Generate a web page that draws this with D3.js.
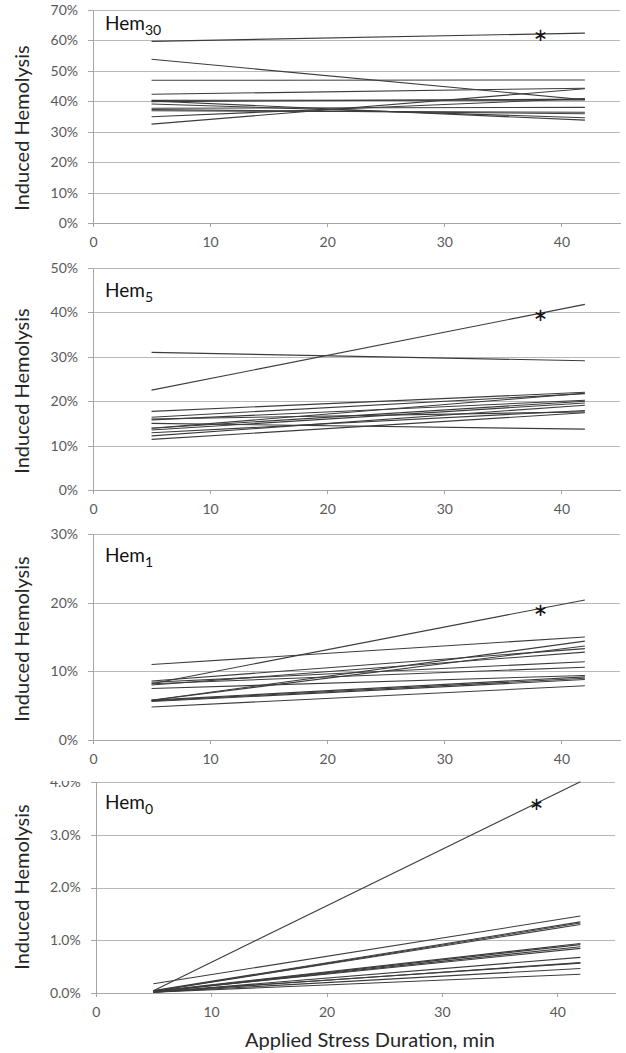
<!DOCTYPE html>
<meta charset="utf-8">
<style>

body {
  margin: 0;
  background: #fff;
}

svg text {
  font-family: Lato, "Open Sans", sans-serif;
}

.grid line {
  stroke: #b8b8b8;
  stroke-width: 1px;
}

.axis path, .axis line {
  stroke: #a6a6a6;
  shape-rendering: crispEdges;
}

.axis text {
  fill: #595959;
  font-size: 14px;
}

.series {
  fill: none;
  stroke: #3c3c3c;
  stroke-width: 1.1px;
}

</style>
<svg></svg>
<script src="https://d3js.org/d3.v7.min.js"></script>
<script>

var width = 626,
    height = 1053;

// measurement times (min), each subject is a straight line between them
var times = [5, 42];

// induced hemolysis, % : [at 5 min, at 42 min]
var hem30 = [[59.7, 62.4], [53.8, 40.5], [46.9, 47.0], [42.3, 44.3], [40.3, 40.4],
             [40.1, 33.8], [39.9, 40.7], [39.1, 34.6], [37.7, 38.0], [36.9, 36.4],
             [37.3, 35.9], [34.9, 40.9], [32.5, 44.1]];
var hem5 = [[22.5, 41.8], [31.0, 29.1], [17.7, 22.0], [16.4, 21.7], [16.0, 17.6],
            [15.8, 20.2], [15.0, 13.7], [13.9, 21.8], [13.5, 19.6], [12.9, 17.9],
            [12.2, 19.1], [11.4, 17.4], [13.9, 20.0]];
var hem1 = [[8.2, 20.4], [11.0, 15.0], [5.8, 14.4], [5.8, 13.7], [8.6, 13.3],
            [8.0, 12.8], [8.4, 11.4], [8.2, 10.6], [7.5, 9.4], [5.8, 9.2],
            [5.7, 9.0], [5.6, 8.8], [4.8, 7.9]];
var hem0 = [[0.05, 4.0], [0.18, 1.46], [0.05, 1.35], [0.04, 1.33], [0.04, 1.30],
            [0.04, 0.94], [0.03, 0.92], [0.03, 0.88], [0.03, 0.85], [0.02, 0.68],
            [0.02, 0.58], [0.03, 0.57], [0.02, 0.47], [0.02, 0.36]];

var panelNames = ["30", "5", "1", "0"];
var yMaxes = [70, 50, 30, 4];
var yTickSets = [[0, 10, 20, 30, 40, 50, 60, 70], [0, 10, 20, 30, 40, 50], [0, 10, 20, 30], [0, 1, 2, 3, 4]];
var xTicks = [0, 10, 20, 30, 40];
var xMax = 45;

// asterisk marking the significant subject
var starX = 38.2;
var starValues = [62.4, 39.8, 19.2, 3.6];

// layout of each plot area in the page
var panels = [
  {data: hem30, left: 93, right: 620, top: 10, bottom: 223, titleY: 128, hemY: 30, fmt: function(d) { return d + "%"; }},
  {data: hem5, left: 93, right: 620, top: 268, bottom: 490, titleY: 391, hemY: 297, fmt: function(d) { return d + "%"; }},
  {data: hem1, left: 93, right: 620, top: 534, bottom: 740, titleY: 639, hemY: 562, fmt: function(d) { return d + "%"; }},
  {data: hem0, left: 95.7, right: 615, top: 781.7, bottom: 993.3, titleY: 887, hemY: 809, fmt: function(d) { return d.toFixed(1) + "%"; }}
];

var svg = d3.select("svg")
    .attr("width", width)
    .attr("height", height);

// the bottom panel is cut off at its top edge in the original figure
svg.append("clipPath")
    .attr("id", "cut")
  .append("rect")
    .attr("x", 0)
    .attr("y", 781)
    .attr("width", width)
    .attr("height", height - 781);

panels.forEach(function(p, i) {
  var g = svg.append("g");
  if (i == 3) g.attr("clip-path", "url(#cut)");

  var x = d3.scaleLinear().domain([0, xMax]).range([p.left, p.right]);
  var y = d3.scaleLinear().domain([0, yMaxes[i]]).range([p.bottom, p.top]);

  // horizontal gridlines
  g.append("g")
      .attr("class", "grid")
    .selectAll("line")
    .data(yTickSets[i].slice(1))
    .enter().append("line")
      .attr("x1", p.left)
      .attr("x2", p.right)
      .attr("y1", function(d) { return Math.round(y(d)) + 0.5; })
      .attr("y2", function(d) { return Math.round(y(d)) + 0.5; });

  g.append("g")
      .attr("class", "axis")
      .attr("transform", "translate(" + p.left + ",0)")
      .call(d3.axisLeft(y).tickValues(yTickSets[i]).tickFormat(p.fmt).tickSize(5).tickSizeOuter(0).tickPadding(10));

  g.append("g")
      .attr("class", "axis")
      .attr("transform", "translate(0," + p.bottom + ")")
      .call(d3.axisBottom(x).tickValues(xTicks).tickSize(4).tickSizeOuter(0).tickPadding(10));

  var line = d3.line()
      .x(function(d, j) { return x(times[j]); })
      .y(function(d) { return y(d); });

  g.append("g")
    .selectAll("path")
    .data(p.data)
    .enter().append("path")
      .attr("class", "series")
      .attr("d", line);

  g.append("text")
      .attr("x", x(starX))
      .attr("y", y(starValues[i]))
      .attr("dy", "0.66em")
      .attr("text-anchor", "middle")
      .style("font-size", "34px")
      .style("fill", "#111")
      .text("*");

  var hem = g.append("text")
      .attr("x", 105)
      .attr("y", p.hemY)
      .style("font-size", "19px")
      .style("fill", "#111");
  hem.append("tspan").text("Hem");
  hem.append("tspan")
      .attr("dy", 5)
      .style("font-size", "14px")
      .text(panelNames[i]);

  g.append("text")
      .attr("transform", "translate(29," + p.titleY + ") rotate(-90)")
      .attr("text-anchor", "middle")
      .style("font-size", "20px")
      .style("fill", "#262626")
      .text("Induced Hemolysis");
});

svg.append("text")
    .attr("x", 370)
    .attr("y", 1047)
    .attr("text-anchor", "middle")
    .style("font-size", "20px")
    .style("fill", "#262626")
    .text("Applied Stress Duration, min");

</script>
